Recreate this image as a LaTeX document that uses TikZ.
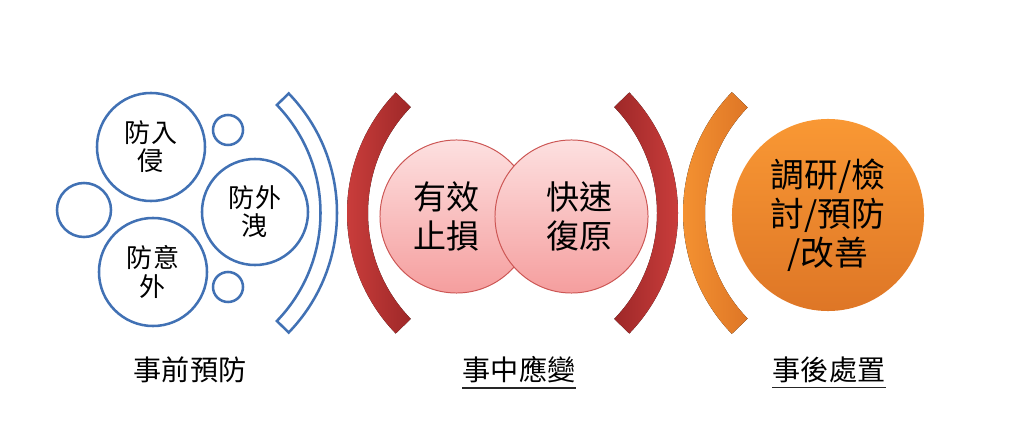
\documentclass[tikz,border=0pt]{standalone}
\usepackage{fontspec}
\setmainfont{Noto Sans CJK TC}
\usetikzlibrary{positioning}
\definecolor{ringblue}{RGB}{65,113,180}
\definecolor{redlight}{RGB}{212,66,64}
\definecolor{reddark}{RGB}{158,40,40}
\definecolor{pinktop}{RGB}{253,224,224}
\definecolor{pinkbot}{RGB}{245,158,158}
\definecolor{pinkedge}{RGB}{204,86,84}
\definecolor{orangelight}{RGB}{249,152,52}
\definecolor{orangedark}{RGB}{222,118,38}
\tikzset{
  bluering/.style={circle, draw=ringblue, line width=1.8pt, inner sep=0pt, align=center,
    font=\fontsize{18.5}{20}\selectfont},
  pinkdisc/.style={circle, draw=pinkedge, line width=0.7pt, top color=pinktop, bottom color=pinkbot,
    minimum size=3.825cm, inner sep=0pt},
  pinktext/.style={align=center, inner sep=0pt, font=\fontsize{23.5}{27.7}\selectfont},
  orangedisc/.style={circle, top color=orangelight, bottom color=orangedark, draw=none,
    minimum size=4.8cm, inner sep=0pt, align=center,
    font=\fontsize{24}{27.7}\selectfont},
  steptag/.style={inner sep=0pt, font=\fontsize{20}{22}\selectfont},
}
\begin{document}
\begin{tikzpicture}[x=0.025cm, y=0.025cm]
\useasboundingbox (0,0) rectangle (1024,447);

% Drawing circles of the first step
\node [bluering, minimum size=2.7cm] (inv) at (151,300) {防入\\侵};%
\node [bluering, minimum size=0.75cm] (dottop) at (228,317) {};%
\node [bluering, minimum size=1.35cm] (dotleft) at (84,237) {};%
\node [bluering, minimum size=2.65cm] (leak) at (255,235) {防外\\洩};%
\node [bluering, minimum size=2.7cm] (acc) at (153,175) {防意\\外};%
\node [bluering, minimum size=0.75cm] (dotbot) at (228,160) {};%

% Drawing bracket of the first step
\filldraw [fill=white, draw=ringblue, line width=1.8pt]
  ([shift={(165,234)}]-44:172) arc [start angle=-44, end angle=44, radius=172]
  -- ([shift={(165,234)}]44:155.5) arc [start angle=44, end angle=-44, radius=155.5] -- cycle;%

% Drawing brackets of the second step
\fill [left color=redlight, right color=reddark]
  ([shift={(520.5,234)}]136:173.5) arc [start angle=136, end angle=224, radius=173.5]
  -- ([shift={(520.5,234)}]224:152.5) arc [start angle=224, end angle=136, radius=152.5] -- cycle;%
\fill [left color=reddark, right color=redlight]
  ([shift={(504.5,234)}]-44:173.5) arc [start angle=-44, end angle=44, radius=173.5]
  -- ([shift={(504.5,234)}]44:152.5) arc [start angle=44, end angle=-44, radius=152.5] -- cycle;%

% Drawing circles of the second step
\node [pinkdisc] (stop) at (456.5,230.5) {};%
\node [pinktext] (stoptext) at ([xshift=-0.24cm]stop.center) {有效\\止損};%
\node [pinkdisc] (restore) at (571.5,230.5) {};%
\node [pinktext] (restoretext) at ([xshift=0.21cm]restore.center) {快速\\復原};%

% Drawing bracket of the third step
\fill [left color=orangelight, right color=orangedark]
  ([shift={(857,234)}]136:174) arc [start angle=136, end angle=224, radius=174]
  -- ([shift={(857,234)}]224:152) arc [start angle=224, end angle=136, radius=152] -- cycle;%

% Drawing circle of the third step
\node [orangedisc] (review) at (828,232) {調研/檢\\討/預防\\/改善};%

% Marking step names
\node [steptag] (before) at (190,77) {事前預防};%
\node [steptag] (during) at (519,77) {事中應變};%
\node [steptag] (after) at (829,77) {事後處置};%
\draw [line width=1.2pt, black!85] ([yshift=-3pt]during.south west) -- ([yshift=-3pt]during.south east);%
\draw [line width=1.2pt, black!85] ([yshift=-3pt]after.south west) -- ([yshift=-3pt]after.south east);%
\end{tikzpicture}
\end{document}
